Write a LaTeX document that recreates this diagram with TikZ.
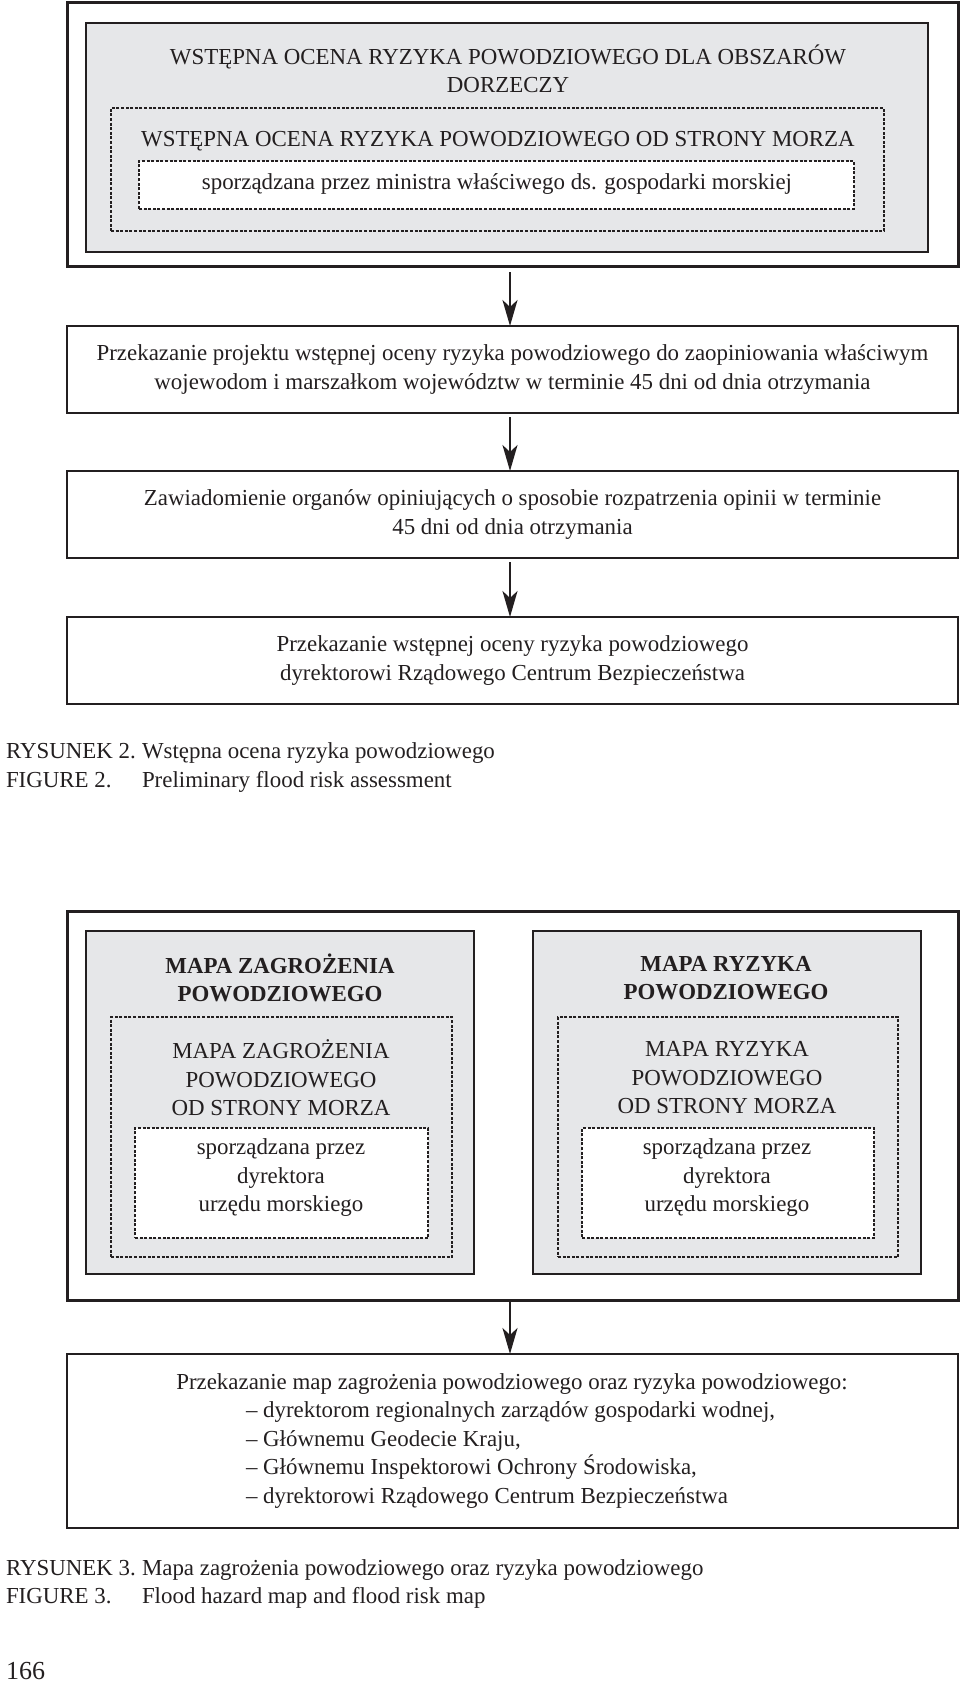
\documentclass[tikz,border=0pt]{standalone}
\usepackage{fontspec}
\setmainfont{Liberation Serif}
\usetikzlibrary{arrows.meta}
\definecolor{panel}{HTML}{E6E7E9}
\definecolor{ink}{HTML}{231F20}
\begin{document}
\begin{tikzpicture}[x=1pt,y=-1pt,
  every node/.style={inner sep=0pt, outer sep=0pt, text=ink, font=\fontsize{22.9}{28.5}\selectfont},
  thickbox/.style={draw=ink, line width=3pt, rectangle},
  panelbox/.style={draw=ink, line width=1.2pt, fill=panel, rectangle},
  dashbox/.style={draw=ink, line width=1.1pt, dash pattern=on 3pt off 1.6pt, rectangle},
  whitedash/.style={dashbox, fill=white},
  plainbox/.style={draw=ink, line width=2pt, rectangle, align=center},
  txt/.style={align=center},
  boldtxt/.style={align=center, font=\fontsize{22.9}{28.5}\selectfont\bfseries},
  arr/.style={draw=ink, line width=2.5pt, -{Stealth[length=26pt,width=15pt,inset=7pt]}},
]
\useasboundingbox (0,0) rectangle (960,1683);

% ---------- Figure 2 ----------
\node[thickbox, minimum width=891pt, minimum height=263pt] (o1) at (512.5,134.5) {};
\node[panelbox, minimum width=842pt, minimum height=229pt] (g1) at (507,137.5) {};
\node[txt] (t1) at (508,69) {WSTĘPNA OCENA RYZYKA POWODZIOWEGO DLA OBSZARÓW\\DORZECZY};
\node[dashbox, minimum width=773pt, minimum height=123pt] (d1) at (497.5,169.5) {};
\node[txt] (t1b) at (498,141) {WSTĘPNA OCENA RYZYKA POWODZIOWEGO OD STRONY MORZA};
\node[whitedash, minimum width=715pt, minimum height=48pt] (w1) at (496.5,185) {};
\node[txt] (t1c) at (497,184) {sporządzana przez ministra właściwego ds. gospodarki morskiej};

\node[plainbox, minimum width=891pt, minimum height=87pt] (b2) at (512.5,369.5)
  {Przekazanie projektu wstępnej oceny ryzyka powodziowego do zaopiniowania właściwym\\wojewodom i marszałkom województw w terminie 45 dni od dnia otrzymania};
\node[plainbox, minimum width=891pt, minimum height=87pt] (b3) at (512.5,514.5)
  {Zawiadomienie organów opiniujących o sposobie rozpatrzenia opinii w terminie\\45 dni od dnia otrzymania};
\node[plainbox, minimum width=891pt, minimum height=87pt] (b4) at (512.5,660.5)
  {Przekazanie wstępnej oceny ryzyka powodziowego\\dyrektorowi Rządowego Centrum Bezpieczeństwa};

\draw[arr] ([xshift=-2.5pt,yshift=-6pt]o1.south) -- ([xshift=-2.5pt]b2.north);
\draw[arr] ([xshift=-2.5pt,yshift=-4pt]b2.south) -- ([xshift=-2.5pt]b3.north);
\draw[arr] ([xshift=-2.5pt,yshift=-4pt]b3.south) -- ([xshift=-2.5pt]b4.north);

\node[anchor=base west] (c2a) at (6,758) {RYSUNEK 2.};
\node[anchor=base west] (c2b) at (142,758) {Wstępna ocena ryzyka powodziowego};
\node[anchor=base west] (c2c) at (6,787) {FIGURE 2.};
\node[anchor=base west] (c2d) at (142,787) {Preliminary flood risk assessment};

% ---------- Figure 3 ----------
\node[thickbox, minimum width=891pt, minimum height=389pt] (o5) at (512.5,1105.5) {};
\node[panelbox, minimum width=388pt, minimum height=343pt] (gl) at (280,1102.5) {};
\node[panelbox, minimum width=388pt, minimum height=343pt] (gr) at (727,1102.5) {};
\node[boldtxt] (tl) at (280,978) {MAPA ZAGROŻENIA\\POWODZIOWEGO};
\node[boldtxt] (tr) at (726,978) {MAPA RYZYKA\\POWODZIOWEGO};
\node[dashbox, minimum width=341pt, minimum height=240pt] (dl) at (281.5,1137) {};
\node[dashbox, minimum width=340pt, minimum height=240pt] (dr) at (728,1137) {};
\node[txt] (tl2) at (281,1078) {MAPA ZAGROŻENIA\\POWODZIOWEGO\\OD STRONY MORZA};
\node[txt] (tr2) at (727,1078) {MAPA RYZYKA\\POWODZIOWEGO\\OD STRONY MORZA};
\node[whitedash, minimum width=293pt, minimum height=110pt] (wl) at (281.5,1183) {};
\node[whitedash, minimum width=292pt, minimum height=110pt] (wr) at (728,1183) {};
\node[txt] (tl3) at (281,1178) {sporządzana przez\\dyrektora\\urzędu morskiego};
\node[txt] (tr3) at (727,1178) {sporządzana przez\\dyrektora\\urzędu morskiego};

\node[draw=ink, line width=2pt, rectangle, minimum width=891pt, minimum height=174pt] (b6) at (512.5,1441) {};
\node[txt] (t6a) at (512,1384) {Przekazanie map zagrożenia powodziowego oraz ryzyka powodziowego:};
\node[align=left, anchor=west] (t6b) at (246,1455)
  {– dyrektorom regionalnych zarządów gospodarki wodnej,\\– Głównemu Geodecie Kraju,\\– Głównemu Inspektorowi Ochrony Środowiska,\\– dyrektorowi Rządowego Centrum Bezpieczeństwa};

\draw[arr] ([xshift=-2.5pt]o5.south) -- ([xshift=-2.5pt]b6.north);

\node[anchor=base west] (c3a) at (6,1575) {RYSUNEK 3.};
\node[anchor=base west] (c3b) at (142,1575) {Mapa zagrożenia powodziowego oraz ryzyka powodziowego};
\node[anchor=base west] (c3c) at (6,1603) {FIGURE 3.};
\node[anchor=base west] (c3d) at (142,1603) {Flood hazard map and flood risk map};

\node[anchor=base west, font=\fontsize{26}{30}\selectfont] (pg) at (6,1679) {166};
\end{tikzpicture}
\end{document}
